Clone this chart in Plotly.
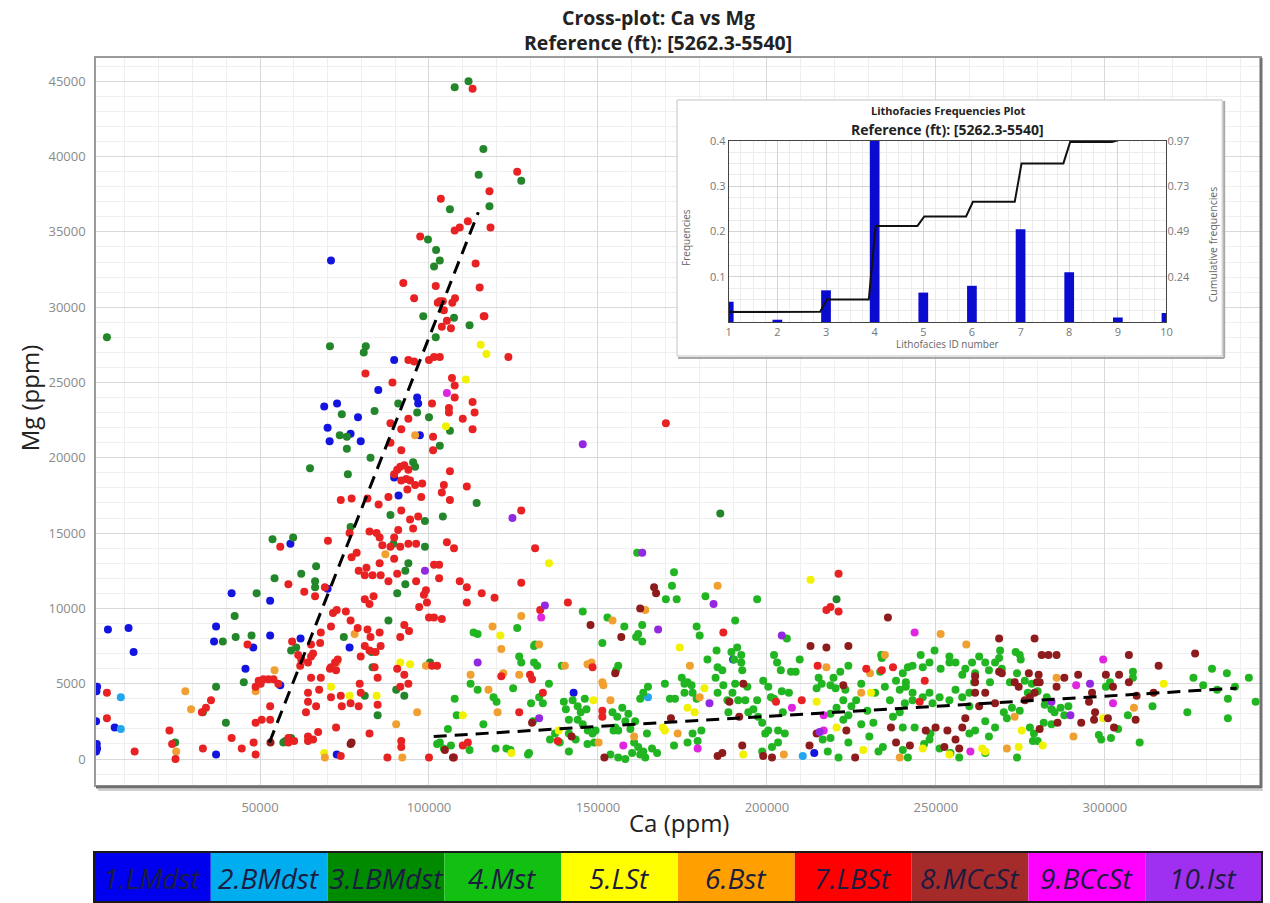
import plotly.graph_objects as go

# ---------------- lithofacies classes ----------------
FACIES = ["1.LMdst", "2.BMdst", "3.LBMdst", "4.Mst", "5.LSt",
          "6.Bst", "7.LBSt", "8.MCcSt", "9.BCcSt", "10.Ist"]
DOT_COLORS = ["#1414e0", "#22a6ee", "#23862a", "#22b522", "#f2f200",
              "#f0a030", "#e82222", "#8e1c1c", "#e025e0", "#9228e0"]
BAR_COLORS = ["#0000ee", "#00aeef", "#008a00", "#11c011", "#ffff00",
              "#ffa000", "#ff0000", "#a52a2a", "#ff00ff", "#a030f0"]

# ---------------- samples: (Ca, Mg) in thousands of ppm ----------------
LMDST = [(1.8, 4.8), (1.6, 4.5), (1.5, 2.5), (1.8, 0.7), (1.7, 1.0), (1.5, 0.5), (7.0, 2.1), (5.0, 8.6),
         (11.1, 8.7), (12.6, 7.1), (37.0, 0.3), (41.6, 11.0), (53.0, 10.5), (37.0, 8.8), (36.4, 7.8),
         (48.0, 7.4), (45.7, 6.0), (53.0, 8.2), (62.0, 8.0), (56.0, 4.9), (70.0, 11.3), (59.0, 14.3),
         (72.7, 0.3), (89.7, 18.7), (91.0, 17.5), (76.5, 7.4), (69.0, 23.4), (72.8, 23.6), (70.0, 22.0),
         (70.6, 21.1), (76.8, 21.6), (79.8, 21.1), (79.0, 22.7), (96.8, 23.6), (97.3, 21.5), (71.0, 33.1),
         (89.7, 26.5), (85.0, 24.5), (96.5, 24.0), (142.8, 4.4), (214.0, 0.4), (190.0, 6.6)]

BMDST = [(8.8, 2.0), (8.8, 4.1), (164.8, 4.1), (210.6, 0.2)]

LBMDST = [(4.7, 28.0), (107.6, 44.6), (111.7, 45.0), (116.1, 40.5), (127.3, 38.4), (114.7, 38.8),
          (106.2, 36.5), (117.9, 36.7), (99.7, 34.5), (102.1, 33.8), (103.2, 33.1), (101.5, 32.7),
          (98.3, 29.4), (107.4, 29.3), (112.0, 28.8), (102.0, 28.0), (70.7, 27.4), (81.3, 27.4), (80.7, 27.0),
          (96.5, 23.0), (100.0, 22.7), (90.9, 23.6), (83.9, 23.1), (74.2, 22.9), (73.6, 21.5), (75.7, 21.4),
          (75.7, 20.6), (106.2, 21.8), (103.2, 20.8), (82.7, 20.0), (95.3, 19.7), (95.9, 19.4), (64.8, 19.3),
          (76.0, 18.9), (114.1, 17.0), (88.6, 16.2), (98.8, 15.8), (104.1, 16.1), (76.8, 15.4), (89.5, 14.3),
          (98.8, 14.1), (93.9, 13.0), (93.0, 12.5), (93.0, 11.6), (90.6, 11.0), (88.0, 9.2), (74.8, 8.1),
          (100.3, 6.4), (90.3, 4.6), (92.7, 4.2), (81.0, 4.2), (84.8, 2.9), (83.0, 7.1), (83.3, 6.1),
          (56.9, 1.1), (59.2, 1.4), (57.5, 1.2), (39.9, 2.4), (37.0, 4.8), (45.2, 5.1), (33.1, 3.1), (24.9, 1.1),
          (53.7, 14.6), (59.8, 14.7), (54.3, 12.0), (62.2, 12.3), (49.0, 11.0), (42.5, 9.5), (42.8, 8.1),
          (47.5, 8.2), (39.0, 7.8), (59.2, 7.2), (60.7, 7.4), (66.3, 11.8), (66.6, 12.8), (66.3, 11.4),
          (220.6, 10.6), (186.2, 16.3)]

MST = [(161.6, 13.7), (172.5, 12.4), (171.9, 11.5), (170.1, 10.6), (173.3, 10.6), (181.8, 10.8), (197.1, 10.6),
       (145.5, 9.8), (152.8, 9.4), (157.8, 8.8), (163.1, 8.9), (161.9, 8.3), (161.3, 8.1), (163.1, 7.8),
       (179.2, 8.8), (180.1, 8.2), (190.6, 9.2), (151.3, 7.7), (156.0, 6.2), (155.4, 5.9), (139.3, 6.2),
       (182.4, 6.6), (185.1, 7.2), (185.4, 6.1), (186.8, 5.9), (189.5, 7.1), (191.2, 7.4), (192.4, 6.9),
       (190.3, 6.6), (192.4, 6.4), (192.7, 5.9), (202.1, 6.9), (203.0, 6.4), (204.1, 5.9), (207.1, 5.8),
       (209.7, 6.6), (215.3, 5.4), (216.2, 5.0), (214.7, 4.7), (205.9, 8.0),
       (131.1, 7.5), (131.1, 6.4), (132.0, 6.2), (126.1, 8.7), (113.2, 8.4), (114.4, 8.3), (126.7, 6.8),
       (127.3, 6.4), (131.4, 7.6), (112.3, 5.0), (114.4, 4.6), (124.9, 4.7), (119.1, 4.1), (120.0, 3.8),
       (107.6, 4.0), (108.2, 2.9), (105.6, 2.0), (116.1, 2.3), (103.2, 1.1), (104.4, 0.7), (106.5, 0.9),
       (112.0, 0.6), (119.7, 0.7), (122.9, 0.7), (124.1, 0.6), (129.3, 0.3), (129.6, 0.4), (102.4, 1.0),
       (130.8, 2.5), (130.2, 3.7), (133.7, 3.7), (132.6, 4.1), (135.5, 5.0), (135.8, 1.3), (137.3, 1.7),
       (141.4, 1.7), (143.4, 1.3), (141.4, 0.5), (138.7, 1.1), (139.9, 3.8), (140.5, 3.3), (142.5, 3.9),
       (144.0, 3.5), (144.9, 3.1), (141.4, 2.6), (144.0, 2.6), (145.5, 2.3), (147.0, 1.9), (148.4, 1.7),
       (149.3, 1.9), (146.1, 4.0), (146.6, 3.3), (146.9, 1.0), (148.9, 1.1), (154.3, 3.1), (155.7, 2.8),
       (157.2, 3.4), (158.1, 2.5), (159.0, 3.0), (159.6, 2.0), (161.0, 2.5), (154.6, 1.9), (155.1, 2.1),
       (156.0, 1.9), (153.7, 0.3), (156.0, 0.1), (158.1, 0.0), (160.1, 0.4), (162.5, 0.3), (164.0, 0.1),
       (160.7, 1.1), (161.9, 0.8), (163.4, 0.5), (164.5, 1.7), (166.0, 0.7), (167.5, 0.4), (162.5, 4.0),
       (163.4, 4.4), (164.8, 4.8), (169.8, 5.0), (171.3, 4.0), (172.8, 4.0), (174.8, 5.4), (175.6, 5.0),
       (176.5, 5.1), (177.7, 4.9), (175.6, 4.4), (178.0, 4.4), (179.2, 4.0), (178.0, 1.7), (180.6, 1.9),
       (176.5, 1.1), (179.5, 1.2), (172.5, 0.9), (184.8, 5.4), (185.4, 4.4), (187.1, 4.9), (188.3, 3.9),
       (188.6, 3.1), (189.8, 4.4), (190.6, 5.0), (191.5, 3.9), (193.6, 3.9), (194.2, 4.8), (194.5, 3.1),
       (196.0, 3.3), (197.1, 3.9), (197.4, 2.8), (198.6, 2.4), (199.5, 1.7), (200.4, 1.9), (203.3, 1.9),
       (204.7, 3.1), (205.3, 1.7), (198.9, 5.2), (200.4, 4.8), (201.2, 4.1), (202.1, 4.0), (204.4, 4.5),
       (206.5, 4.4), (208.5, 5.8), (198.6, 0.5), (201.5, 0.8), (203.3, 1.1), (216.5, 1.3), (218.0, 0.5),
       (331.7, 6.0), (336.1, 5.7), (342.6, 5.4), (326.2, 5.4), (329.1, 4.9), (333.2, 4.6), (338.5, 4.8),
       (336.4, 4.0), (336.4, 2.7), (324.4, 3.1), (344.6, 3.8), (314.1, 3.5), (306.8, 2.9), (310.3, 1.1),
       (308.3, 5.8), (308.3, 5.4), (303.9, 2.0), (298.9, 1.3), (300.3, 4.8), (301.5, 5.1), (298.2, 1.6),
       (301.8, 1.4), (286.9, 3.4), (285.1, 3.1), (284.2, 3.3), (289.2, 3.5), (288.0, 2.9), (284.2, 2.3),
       (281.9, 2.4), (274.8, 6.9), (275.1, 6.6), (273.6, 7.1), (269.0, 7.2), (268.7, 6.7), (267.5, 6.4),
       (269.5, 6.0), (271.9, 5.1), (274.0, 5.7), (276.3, 5.2), (278.4, 5.0), (277.2, 4.4), (280.1, 4.5),
       (282.8, 4.1), (282.2, 3.6), (272.5, 3.4), (274.8, 3.2), (271.0, 2.7), (277.8, 2.1), (279.0, 1.7),
       (278.7, 1.2), (280.1, 1.2), (274.0, 0.1), (260.7, 6.4), (262.8, 6.8), (264.6, 6.4), (265.7, 5.9),
       (261.6, 5.7), (266.0, 5.1), (261.3, 5.1), (258.7, 6.0), (257.8, 5.6), (255.8, 6.4), (254.0, 6.8),
       (254.0, 6.4), (251.4, 6.0), (249.6, 7.2), (248.1, 6.4), (246.1, 6.1), (245.5, 6.9), (241.7, 6.1),
       (243.1, 6.2), (240.2, 5.7), (238.2, 5.2), (241.1, 5.1), (233.8, 6.9), (234.0, 6.7), (224.1, 6.2),
       (221.7, 5.8), (219.7, 5.4), (218.8, 4.9), (227.9, 5.0), (220.3, 4.7), (223.2, 4.6), (222.6, 3.9),
       (226.4, 3.9), (225.0, 3.5), (218.8, 3.0), (220.6, 3.4), (224.1, 2.9), (222.6, 2.6), (218.8, 1.4),
       (221.2, 0.1), (224.1, 1.1), (227.9, 2.3), (233.5, 5.8), (232.0, 4.4), (234.9, 4.8), (236.4, 3.9),
       (239.3, 4.6), (241.1, 4.8), (243.1, 4.4), (240.8, 3.7), (243.1, 3.9), (246.1, 4.1), (248.1, 4.4),
       (249.0, 3.7), (251.1, 4.1), (254.0, 3.9), (255.8, 4.6), (257.8, 4.1), (259.9, 4.4), (259.9, 3.5),
       (234.3, 0.8), (233.0, 0.5), (240.2, 0.6), (241.7, 0.1), (246.5, 1.0), (248.1, 1.3), (251.1, 0.7),
       (254.3, 0.4), (256.9, 0.1), (259.9, 1.7), (261.6, 1.9), (264.6, 2.5), (265.7, 1.5), (267.5, 2.1),
       (270.1, 3.1), (264.6, 0.4), (248.4, 1.7), (240.2, 2.1), (243.7, 2.1), (237.3, 2.8), (239.3, 3.1),
       (229.7, 3.2), (231.5, 2.4), (230.3, 1.5)]

LST = [(115.3, 27.5), (117.0, 26.9), (110.9, 25.2), (105.0, 22.1), (91.5, 6.4), (94.4, 6.3), (71.0, 4.8),
       (76.5, 4.2), (84.5, 4.2), (69.0, 0.4), (135.5, 13.0), (121.1, 8.2), (110.0, 2.9), (124.4, 0.4),
       (212.9, 11.9), (174.2, 7.4), (176.5, 3.4), (178.6, 3.1), (181.5, 4.7), (169.2, 2.1), (169.8, 1.9),
       (148.7, 3.9), (138.4, 1.9), (193.0, 0.3), (214.7, 3.8), (228.5, 0.6), (246.1, 0.7), (254.0, 0.3),
       (263.7, 0.7), (264.6, 0.5), (220.6, 2.1), (230.8, 4.4), (317.4, 5.0), (299.5, 2.7), (275.4, 1.9),
       (274.5, 0.8), (281.6, 0.9)]

BST = [(25.2, 0.5), (27.9, 4.5), (29.6, 3.3), (69.2, 0.1), (72.7, 6.4), (78.0, 8.3), (87.1, 13.6), (95.9, 21.5),
       (99.1, 6.2), (90.3, 2.3), (96.5, 3.1), (92.1, 0.1), (54.3, 5.9), (48.7, 4.5), (132.6, 7.6), (118.8, 8.8),
       (121.4, 7.3), (112.3, 5.6), (122.0, 5.7), (126.7, 5.6), (117.6, 4.6), (120.3, 3.1), (127.3, 9.5),
       (140.2, 6.2), (148.1, 6.4), (146.9, 6.3), (164.0, 9.9), (154.3, 9.2), (185.4, 11.5), (177.2, 6.2),
       (151.3, 5.1), (151.6, 4.9), (153.7, 3.9), (150.2, 1.1), (160.7, 1.5), (173.6, 1.7), (180.1, 4.1),
       (217.6, 6.1), (205.0, 0.3), (251.4, 8.3), (259.0, 7.6), (230.5, 5.7), (234.9, 6.9), (227.9, 4.4),
       (285.7, 5.4), (308.6, 3.4), (290.7, 1.5), (273.3, 2.8), (271.0, 0.7), (239.3, 0.1)]

LBST = [(112.9, 44.5), (126.1, 39.0), (117.9, 37.7), (103.5, 37.2), (111.5, 35.7), (107.6, 35.1), (109.1, 35.3),
        (118.2, 35.3), (97.4, 34.7), (113.8, 32.9), (92.4, 31.6), (102.0, 31.4), (115.0, 31.3), (95.6, 30.6),
        (103.2, 30.4), (102.6, 30.3), (104.1, 30.4), (107.7, 30.6), (106.9, 30.3), (104.4, 29.8), (116.2, 29.4),
        (105.3, 29.1), (103.8, 28.7), (106.5, 28.6), (123.5, 26.7), (81.2, 25.6), (89.2, 25.0), (93.9, 26.5),
        (95.6, 26.4), (100.0, 26.5), (101.5, 26.7), (103.2, 26.7), (106.8, 25.3), (107.6, 24.8), (107.6, 24.0),
        (105.9, 23.3), (105.9, 23.0), (112.9, 23.7), (113.5, 23.0), (110.0, 22.6), (100.9, 23.6),
        (112.9, 21.9), (101.2, 21.4), (101.2, 20.5), (93.9, 22.6), (91.8, 21.9), (88.6, 22.3), (88.6, 21.0),
        (91.8, 20.5), (91.5, 19.4), (90.6, 19.2), (92.7, 19.5), (93.9, 19.2), (89.7, 18.9), (91.8, 18.5),
        (93.3, 18.6), (94.4, 18.5), (95.9, 18.2), (88.0, 17.4), (85.1, 16.9), (81.8, 17.3), (77.1, 17.3),
        (73.9, 17.2), (93.6, 17.9), (97.7, 17.4), (98.0, 18.3), (104.4, 18.2), (103.8, 17.7), (106.2, 17.2),
        (106.2, 19.1), (111.2, 18.1), (91.8, 16.5), (96.8, 16.1), (94.4, 15.9), (95.3, 15.3), (90.9, 15.2),
        (127.3, 16.5), (82.4, 15.1), (84.5, 15.0), (85.4, 14.7), (89.7, 14.7), (76.5, 15.0), (78.6, 13.7),
        (77.1, 13.4), (70.1, 14.5), (86.2, 14.2), (88.6, 14.1), (91.5, 14.1), (93.9, 14.3), (96.2, 14.3),
        (105.3, 14.4), (107.4, 14.0), (89.7, 13.3), (85.4, 13.0), (81.5, 12.7), (79.2, 12.5), (101.5, 12.9),
        (103.0, 12.9), (103.0, 12.0), (90.6, 12.3), (88.0, 11.8), (85.7, 12.2), (83.3, 12.2), (81.0, 12.2),
        (96.2, 11.8), (99.1, 11.2), (98.5, 10.9), (97.1, 10.1), (99.4, 10.4), (109.1, 11.8), (111.2, 11.4),
        (111.2, 10.4), (115.6, 11.0), (119.4, 10.7), (127.3, 11.7), (131.4, 14.0), (100.0, 9.4), (101.5, 9.4),
        (103.8, 9.3), (92.7, 8.9), (94.1, 8.5), (91.5, 8.1), (81.0, 10.6), (82.4, 10.3), (83.6, 10.8),
        (75.4, 9.8), (76.8, 9.2), (78.9, 8.7), (81.8, 8.6), (82.7, 8.1), (85.4, 8.4), (85.7, 7.5), (71.6, 9.7),
        (72.7, 9.9), (71.0, 8.8), (68.0, 8.4), (67.8, 7.7), (65.1, 7.6), (65.7, 7.0), (63.1, 11.1), (66.3, 10.8),
        (69.2, 11.4), (81.0, 7.5), (82.4, 7.2), (84.2, 7.1), (79.8, 6.8), (83.9, 6.1), (84.8, 5.4), (90.6, 6.0),
        (92.7, 5.6), (91.5, 4.8), (93.9, 5.0), (100.9, 6.2), (102.4, 6.2), (71.0, 6.1), (72.2, 6.4), (72.5, 5.9),
        (70.7, 6.0), (73.0, 6.6), (65.1, 6.8), (65.1, 5.4), (64.2, 4.4), (64.2, 3.8), (66.6, 3.5), (63.6, 3.1),
        (68.0, 5.4), (67.5, 4.6), (71.0, 4.1), (73.9, 4.2), (74.2, 3.5), (76.8, 3.7), (79.5, 5.0), (79.8, 4.4),
        (84.8, 3.6), (79.2, 3.5), (72.5, 2.1), (67.2, 1.8), (65.7, 1.3), (64.2, 1.5), (82.4, 1.7), (91.8, 1.2),
        (91.8, 0.8), (87.7, 0.1), (100.0, 0.1), (73.9, 0.2), (58.4, 1.4), (60.1, 1.2), (53.0, 2.6), (50.5, 2.6),
        (48.7, 2.4), (53.0, 3.5), (44.6, 0.7), (41.6, 1.4), (48.1, 1.1), (48.7, 0.3), (32.8, 3.1), (35.5, 3.9),
        (34.0, 3.4), (33.1, 0.7), (49.6, 5.2), (51.0, 5.3), (52.5, 5.3), (54.0, 5.3), (55.4, 5.0), (48.7, 4.8),
        (50.2, 5.0), (56.0, 14.1), (58.4, 11.6), (46.3, 7.6), (59.5, 7.8), (61.3, 6.9), (62.2, 6.6), (64.2, 6.4),
        (61.9, 6.2), (141.1, 10.4), (217.6, 9.9), (218.8, 10.1), (132.9, 9.9), (133.7, 4.4), (138.1, 1.2),
        (151.3, 3.2), (151.3, 2.8), (148.4, 6.1), (187.1, 8.4), (202.7, 3.8), (210.3, 3.9), (215.0, 6.2),
        (170.1, 22.3), (116.4, 29.4), (110.0, 0.9), (111.5, 1.1), (107.4, 0.1), (126.7, 3.1), (121.4, 5.5),
        (129.9, 5.6), (130.5, 5.3), (221.2, 12.3), (221.2, 9.8), (237.3, 6.1), (234.0, 5.9), (229.4, 6.0),
        (246.7, 5.2), (245.2, 3.8), (12.9, 0.5), (4.7, 4.4), (4.7, 2.7), (23.2, 1.9), (24.0, 1.0), (25.0, 0.0),
        (64.2, 1.2), (58.4, 1.1)]

MCCST = [(53.1, 1.1), (76.8, 1.0), (77.1, 1.1), (104.7, 0.6), (107.1, 0.1), (130.5, 2.4), (142.2, 1.5),
         (151.9, 0.1), (155.1, 5.7), (156.9, 8.1), (166.6, 11.4), (167.2, 11.0), (162.5, 10.0), (147.8, 8.9),
         (193.0, 5.0), (212.9, 7.5), (217.6, 7.4), (185.4, 0.2), (186.8, 0.4), (198.9, 0.2), (201.5, 0.1),
         (171.6, 2.7), (214.7, 1.7), (212.6, 0.9), (188.9, 3.8), (191.8, 2.8), (192.7, 0.9), (235.8, 9.4),
         (268.7, 8.0), (279.2, 8.0), (224.1, 7.5), (307.1, 6.9), (326.7, 7.0), (315.9, 6.2), (309.4, 4.2),
         (314.4, 4.4), (309.1, 2.6), (307.1, 5.1), (300.3, 5.6), (304.2, 5.6), (302.4, 4.8), (295.3, 3.8),
         (297.1, 3.1), (296.2, 4.4), (300.9, 2.7), (302.7, 2.1), (293.0, 2.4), (296.8, 2.6), (292.1, 5.6),
         (288.0, 5.4), (285.7, 6.9), (283.3, 6.9), (281.3, 6.9), (280.7, 5.1), (279.2, 4.4), (277.8, 4.1),
         (280.4, 5.6), (285.7, 4.8), (286.0, 2.4), (280.7, 2.0), (268.7, 5.8), (269.5, 5.7), (273.3, 5.1),
         (274.5, 4.8), (277.5, 5.7), (279.9, 5.1), (276.3, 3.9), (222.6, 4.9), (223.5, 1.9), (226.1, 0.1),
         (261.6, 5.5), (261.6, 5.1), (261.6, 4.4), (262.8, 3.5), (264.6, 4.4), (267.5, 3.7), (258.7, 2.7),
         (257.8, 2.1), (255.8, 1.3), (253.4, 1.9), (249.9, 2.1), (247.0, 1.9), (252.5, 0.8), (256.9, 0.7),
         (236.7, 2.1), (238.2, 1.1), (242.3, 0.9)]

BCCST = [(105.3, 24.3), (133.2, 9.4), (157.5, 0.9), (179.5, 0.7), (207.4, 3.4), (216.8, 2.9), (216.8, 1.9),
         (243.7, 8.4), (260.2, 0.5), (299.5, 6.6), (302.4, 3.7), (291.5, 4.9)]

IST = [(124.7, 16.0), (145.5, 20.9), (163.1, 13.7), (134.3, 10.2), (114.4, 6.4), (167.8, 8.6), (184.2, 10.3),
       (183.0, 3.7), (98.8, 12.5), (132.6, 2.7), (204.4, 8.2), (215.6, 1.8), (289.8, 2.9), (295.6, 5.0),
       (284.2, 3.8)]

SAMPLES = [LMDST, BMDST, LBMDST, MST, LST, BST, LBST, MCCST, BCCST, IST]

# dashed trend lines: (Ca, Mg) end points, thousands of ppm
TREND_STEEP = [(52.8, 1.1), (114.6, 36.3)]
TREND_FLAT = [(101.4, 1.5), (339.0, 4.7)]

# inset: lithofacies frequencies
FACIES_ID = [1, 2, 3, 4, 5, 6, 7, 8, 9, 10]
FREQ = [0.045, 0.005, 0.07, 0.41, 0.065, 0.08, 0.205, 0.11, 0.01, 0.02]
CUM_FREQ = [0.053, 0.055, 0.12, 0.515, 0.566, 0.644, 0.85, 0.965, 0.975, 0.99]
CUM_TICKS = ["0.24", "0.49", "0.73", "0.97"]

TITLE_1 = "Cross-plot: Ca vs Mg"
TITLE_2 = "Reference (ft): [5262.3-5540]"

# ---------------- page geometry ----------------
W, H = 1270, 903
ML, MR, MT, MB = 96, 4, 58, 118
PW, PH = W - ML - MR, H - MT - MB


def fx(px):
    return (px - ML) / PW


def fy(py):
    return (H - MB - py) / PH


FONT = "Open Sans, Liberation Sans, sans-serif"
K = 1000.0

fig = go.Figure()

# main scatter, one trace per facies
for pts, col, name in zip(SAMPLES, DOT_COLORS, FACIES):
    fig.add_trace(go.Scatter(
        x=[c * K for c, m in pts], y=[m * K for c, m in pts], mode="markers", name=name,
        marker=dict(size=8, color=col, line=dict(width=0)), showlegend=False, hoverinfo="x+y+name"))

for seg in (TREND_STEEP, TREND_FLAT):
    fig.add_trace(go.Scatter(
        x=[c * K for c, m in seg], y=[m * K for c, m in seg], mode="lines",
        line=dict(color="black", width=3, dash="13px,8px"), showlegend=False, hoverinfo="skip"))

# white panel that holds the inset
fig.add_trace(go.Scatter(x=[0.5], y=[0.5], xaxis="x2", yaxis="y2", mode="markers",
                         marker=dict(opacity=0), showlegend=False, hoverinfo="skip"))

# inset: frequency bars and cumulative curve
fig.add_trace(go.Bar(x=FACIES_ID, y=FREQ, width=0.2, marker=dict(color="#0b0bcf", line=dict(width=0)),
                     xaxis="x3", yaxis="y3", showlegend=False))
cx, cy = [FACIES_ID[0]], [CUM_FREQ[0]]
for i in range(1, len(FACIES_ID)):
    cx += [FACIES_ID[i] - 0.12, FACIES_ID[i] + 0.02]
    cy += [CUM_FREQ[i - 1], CUM_FREQ[i]]
cx.append(FACIES_ID[-1])
cy.append(CUM_FREQ[-1])
fig.add_trace(go.Scatter(x=cx, y=cy, mode="lines", line=dict(color="#111", width=2),
                         xaxis="x3", yaxis="y4", showlegend=False, hoverinfo="skip"))

grid_major = "#d9d9d9"
grid_minor = "#efefef"
tickfont = dict(family=FONT, size=13, color="#8a8a8a")

fig.update_layout(
    width=W, height=H, margin=dict(l=ML, r=MR, t=MT, b=MB),
    paper_bgcolor="white", plot_bgcolor="white", showlegend=False,
    xaxis=dict(range=[1470, 345900], tickvals=[50000, 100000, 150000, 200000, 250000, 300000],
               tickformat="d", tickfont=tickfont, ticks="", ticklabelstandoff=10,
               showgrid=True, gridcolor=grid_major, gridwidth=1, zeroline=False,
               minor=dict(dtick=10000, showgrid=True, gridcolor=grid_minor, gridwidth=1),
               showline=True, linecolor="#9a9a9a", linewidth=1.5, mirror=True),
    yaxis=dict(range=[-1726, 46547], tickvals=list(range(0, 45001, 5000)), tickformat="d",
               tickfont=tickfont, ticks="", ticklabelstandoff=6,
               showgrid=True, gridcolor=grid_major, gridwidth=1, zeroline=False,
               minor=dict(dtick=1000, showgrid=True, gridcolor=grid_minor, gridwidth=1),
               showline=True, linecolor="#9a9a9a", linewidth=1.5, mirror=True),
    xaxis2=dict(domain=[fx(680), fx(1228)], range=[0, 1], visible=False, anchor="y2"),
    yaxis2=dict(domain=[fy(356), fy(100)], range=[0, 1], visible=False, anchor="x2"),
    xaxis3=dict(domain=[fx(732), fx(1172)], range=[1, 10], anchor="y3", tickvals=FACIES_ID,
                tickfont=dict(family=FONT, size=11, color="#777"), ticks="",
                showgrid=True, gridcolor="#d4d4d4", zeroline=False,
                minor=dict(dtick=0.25, showgrid=True, gridcolor="#ececec"),
                showline=True, linecolor="#444", linewidth=1.2, mirror=True),
    yaxis3=dict(domain=[fy(322), fy(141)], range=[0, 0.4], anchor="x3",
                tickvals=[0.1, 0.2, 0.3, 0.4], tickfont=dict(family=FONT, size=11, color="#777"),
                ticks="", showgrid=True, gridcolor="#d4d4d4", zeroline=False,
                minor=dict(dtick=0.025, showgrid=True, gridcolor="#ececec"),
                showline=True, linecolor="#444", linewidth=1.2, mirror=True),
    yaxis4=dict(overlaying="y3", side="right", anchor="x3", range=[0, 0.97],
                tickvals=[0.2425, 0.485, 0.7275, 0.97], ticktext=CUM_TICKS,
                tickfont=dict(family=FONT, size=11, color="#777"), ticks="",
                showgrid=False, zeroline=False),
)

shapes = []
# shadow under/right of the main frame
shapes.append(dict(type="line", xref="paper", yref="paper", x0=fx(96), x1=fx(1268),
                   y0=fy(787), y1=fy(787), line=dict(color="#707070", width=3)))
shapes.append(dict(type="line", xref="paper", yref="paper", x0=fx(1267), x1=fx(1267),
                   y0=fy(58), y1=fy(788), line=dict(color="#707070", width=3)))
shapes.append(dict(type="line", xref="paper", yref="paper", x0=fx(98), x1=fx(1269),
                   y0=fy(790), y1=fy(790), line=dict(color="#cfcfcf", width=2)))
# inset panel outline with a soft shadow
shapes.append(dict(type="rect", xref="paper", yref="paper", x0=fx(680), x1=fx(1228),
                   y0=fy(356), y1=fy(100), line=dict(color="#c4c4c4", width=1), layer="above"))
shapes.append(dict(type="line", xref="paper", yref="paper", x0=fx(681), x1=fx(1230),
                   y0=fy(358), y1=fy(358), line=dict(color="#a8a8a8", width=2), layer="above"))
shapes.append(dict(type="line", xref="paper", yref="paper", x0=fx(1230), x1=fx(1230),
                   y0=fy(101), y1=fy(358), line=dict(color="#a8a8a8", width=2), layer="above"))

# colour key strip
x_left, x_right = 94, 1268
seg_w = (x_right - x_left) / len(FACIES)
annotations = []
for i, (name, col) in enumerate(zip(FACIES, BAR_COLORS)):
    shapes.append(dict(type="rect", xref="paper", yref="paper",
                       x0=fx(x_left + i * seg_w), x1=fx(x_left + (i + 1) * seg_w),
                       y0=fy(902), y1=fy(852), fillcolor=col, line=dict(width=0)))
    annotations.append(dict(xref="paper", yref="paper", x=fx(x_left + (i + 0.5) * seg_w), y=fy(878),
                            text=f"<i>{name}</i>", showarrow=False, xanchor="center", yanchor="middle",
                            font=dict(family="Liberation Sans Narrow, Open Sans, sans-serif",
                                      size=28, color="#1c1c40")))
shapes.append(dict(type="rect", xref="paper", yref="paper", x0=fx(x_left), x1=fx(x_right),
                   y0=fy(902), y1=fy(852), line=dict(color="#1a1a1a", width=2)))

# titles
annotations += [
    dict(xref="paper", yref="paper", x=fx(661), y=fy(17), text=f"<b>{TITLE_1}</b>", showarrow=False,
         xanchor="center", yanchor="middle", font=dict(family=FONT, size=19.5, color="#222")),
    dict(xref="paper", yref="paper", x=fx(661), y=fy(43), text=f"<b>{TITLE_2}</b>", showarrow=False,
         xanchor="center", yanchor="middle", font=dict(family=FONT, size=19.5, color="#222")),
    dict(xref="paper", yref="paper", x=fx(30), y=fy(398), text="Mg (ppm)", textangle=-90,
         showarrow=False, xanchor="center", yanchor="middle", font=dict(family=FONT, size=24, color="#222")),
    dict(xref="paper", yref="paper", x=fx(682), y=fy(822), text="Ca (ppm)", showarrow=False,
         xanchor="center", yanchor="middle", font=dict(family=FONT, size=24, color="#222")),
    # inset texts
    dict(xref="paper", yref="paper", x=fx(952), y=fy(111), text="<b>Lithofacies Frequencies Plot</b>",
         showarrow=False, xanchor="center", yanchor="middle", font=dict(family=FONT, size=11, color="#222")),
    dict(xref="paper", yref="paper", x=fx(952), y=fy(129), text=f"<b>{TITLE_2}</b>",
         showarrow=False, xanchor="center", yanchor="middle", font=dict(family=FONT, size=14, color="#222")),
    dict(xref="paper", yref="paper", x=fx(689), y=fy(237), text="Frequencies", textangle=-90,
         showarrow=False, xanchor="center", yanchor="middle", font=dict(family=FONT, size=10, color="#666")),
    dict(xref="paper", yref="paper", x=fx(1219), y=fy(245), text="Cumulative frequencies", textangle=-90,
         showarrow=False, xanchor="center", yanchor="middle", font=dict(family=FONT, size=10.5, color="#666")),
    dict(xref="paper", yref="paper", x=fx(952), y=fy(344), text="Lithofacies ID number",
         showarrow=False, xanchor="center", yanchor="middle", font=dict(family=FONT, size=10, color="#666")),
]

fig.update_layout(shapes=shapes, annotations=annotations)
fig.write_html("out.html")
